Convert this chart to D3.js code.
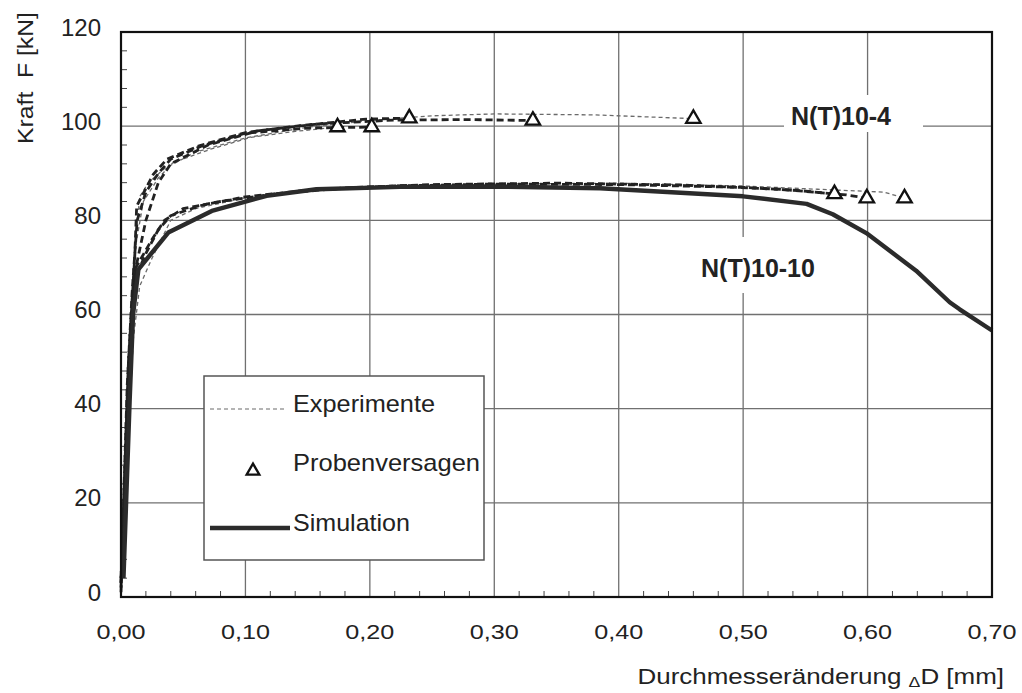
<!DOCTYPE html>
<html>
<head>
<meta charset="utf-8">
<title>Kraft-Durchmesseränderung</title>
<script src="https://d3js.org/d3.v7.min.js"></script>
<style>
  body { margin: 0; background: #fff; }
  svg { display: block; font-family: "Liberation Sans", Arial, sans-serif; }
</style>
</head>
<body>
<svg width="1022" height="693"></svg>
<script>
// ---- data ----
const xTicks = [0, 0.1, 0.2, 0.3, 0.4, 0.5, 0.6, 0.7];
const yTicks = [0, 20, 40, 60, 80, 100, 120];

const simulation = [[0.002,4],[0.007,42],[0.0097,60],[0.014,69.6],[0.038,77.4],[0.073,82.0],[0.117,85.2],
  [0.157,86.6],[0.224,87.1],[0.30,87.2],[0.385,86.8],[0.50,85.1],[0.551,83.5],[0.572,81.3],[0.599,77.3],
  [0.639,69.3],[0.666,62.6],[0.674,61.1],[0.70,56.6]];

// N(T)10-4
const expU1 = [[0,2],[0.004,40],[0.008,62],[0.012,75],[0.018,84],[0.03,89],[0.042,92.3],[0.072,95.1],[0.104,97.6],[0.14,98.9],[0.174,99.8]];
const expU2 = [[0,3],[0.005,45],[0.009,65],[0.013,80],[0.02,86],[0.03,90],[0.04,93],[0.065,95.8],[0.1,98.5],[0.15,99.6],[0.2015,99.8]];
const expU3 = [[0,4],[0.006,50],[0.011,72],[0.0126,83],[0.026,89.8],[0.037,93],[0.0635,95.9],[0.101,98.7],[0.144,100.1],[0.197,101.5],[0.2317,101.7]];
const expU4 = [[0,3],[0.007,50],[0.012,70],[0.02,80],[0.03,88],[0.04,92],[0.07,96],[0.11,99],[0.16,100.5],[0.22,101.3],[0.28,101.4],[0.331,101.2]];
const expU5 = [[0,2],[0.005,40],[0.01,70],[0.015,85],[0.022,88],[0.035,91],[0.06,94.5],[0.1,97.5],[0.15,99.8],[0.2,101.2],[0.25,102.2],[0.3,102.6],[0.38,102.4],[0.46,101.6]];
// N(T)10-10
const expL1 = [[0,1],[0.004,30],[0.008,55],[0.012,68],[0.02,73],[0.03,78],[0.04,81],[0.065,83.2],[0.1,85],[0.15,86.4],[0.22,87.3],[0.3,87.7],[0.4,87.6],[0.5,87],[0.546,86.3],[0.573,85.6]];
const expL2 = [[0,2],[0.005,35],[0.009,58],[0.012,70],[0.025,76],[0.035,80],[0.05,82.5],[0.08,84],[0.12,85.5],[0.18,86.9],[0.25,87.6],[0.35,87.9],[0.45,87.5],[0.53,86.6],[0.583,85.4],[0.599,84.7]];
const expL3 = [[0,1],[0.005,30],[0.01,55],[0.015,66],[0.025,72],[0.04,80],[0.06,82.5],[0.1,84.8],[0.15,86.2],[0.22,87.2],[0.3,87.7],[0.4,87.9],[0.5,87.3],[0.56,86.6],[0.613,86],[0.63,84.7]];

const failures = [[0.174,99.8],[0.2015,99.8],[0.2317,101.7],[0.331,101.2],[0.46,101.6],
  [0.5734,85.6],[0.5994,84.7],[0.6297,84.7]];

const thinExp = [expU1, expU5, expL3];
const thickExp = [expU2, expU3, expU4, expL1, expL2];

const legendText = ['Experimente', 'Probenversagen', 'Simulation'];

// ---- layout ----
const svg = d3.select('svg');
const pLeft = 121, pRight = 992, pTop = 32, pBottom = 597;

const x = d3.scaleLinear().domain([0, 0.7]).range([pLeft, pRight]);
const y = d3.scaleLinear().domain([0, 120]).range([pBottom, pTop]);

// grid
const grid = svg.append('g').attr('stroke', '#707070').attr('stroke-width', 1.3);
grid.selectAll('.gx').data(xTicks.slice(1, -1)).enter().append('line')
  .attr('x1', d => x(d)).attr('x2', d => x(d)).attr('y1', pTop).attr('y2', pBottom);
grid.selectAll('.gy').data(yTicks.slice(1, -1)).enter().append('line')
  .attr('x1', pLeft).attr('x2', pRight).attr('y1', d => y(d)).attr('y2', d => y(d));

// minor ticks pointing inward
const minorY = d3.range(0, 120, 4).filter(v => v % 20 !== 0);
svg.append('g').attr('stroke', '#444').attr('stroke-width', 1)
  .selectAll('line').data(minorY).enter().append('line')
  .attr('x1', pLeft).attr('x2', pLeft + 6).attr('y1', d => y(d)).attr('y2', d => y(d));
const minorX = d3.range(1, 35).filter(i => i % 5 !== 0).map(i => i * 0.02);
svg.append('g').attr('stroke', '#444').attr('stroke-width', 1)
  .selectAll('line').data(minorX).enter().append('line')
  .attr('x1', d => x(d)).attr('x2', d => x(d)).attr('y1', pBottom).attr('y2', pBottom - 6);

// white label patches cutting the grid
svg.append('rect').attr('x', 784).attr('y', 95).attr('width', 139).attr('height', 37).attr('fill', '#fff');
svg.append('rect').attr('x', 690).attr('y', 237).attr('width', 135).attr('height', 56).attr('fill', '#fff');

const line = d3.line().x(d => x(d[0])).y(d => y(d[1]));

// experiments
svg.append('g').selectAll('path').data(thinExp).enter().append('path')
  .attr('d', line).attr('fill', 'none').attr('stroke', '#6a6a6a')
  .attr('stroke-width', 1.3).attr('stroke-dasharray', '4,3');
svg.append('g').selectAll('path').data(thickExp).enter().append('path')
  .attr('d', line).attr('fill', 'none').attr('stroke', '#222')
  .attr('stroke-width', 2.8).attr('stroke-dasharray', '7,4');

// simulation
svg.append('path').datum(simulation).attr('d', line)
  .attr('fill', 'none').attr('stroke', '#2b2b2b').attr('stroke-width', 4.4)
  .attr('stroke-linejoin', 'round');

// failure triangles
const tri = d3.symbol().type(d3.symbolTriangle).size(90);
svg.append('g').selectAll('path').data(failures).enter().append('path')
  .attr('d', tri).attr('transform', d => `translate(${x(d[0])},${y(d[1])})`)
  .attr('fill', '#fff').attr('stroke', '#111').attr('stroke-width', 2.3);

// frame
svg.append('rect').attr('x', pLeft).attr('y', pTop).attr('width', pRight - pLeft).attr('height', pBottom - pTop)
  .attr('fill', 'none').attr('stroke', '#111').attr('stroke-width', 2.2);

// tick labels
svg.append('g').selectAll('text').data(yTicks).enter().append('text')
  .attr('x', 101).attr('y', d => y(d) + 3.5).attr('text-anchor', 'end')
  .attr('font-size', 24).attr('fill', '#222').text(d => d);
svg.append('g').selectAll('text').data(xTicks).enter().append('text')
  .attr('x', d => x(d)).attr('y', 639).attr('text-anchor', 'middle')
  .attr('font-size', 21).attr('textLength', 49).attr('lengthAdjust', 'spacingAndGlyphs')
  .attr('fill', '#222').text(d => d3.format('.2f')(d).replace('.', ','));

// axis titles
svg.append('text').attr('transform', 'translate(33,78) rotate(-90)').attr('text-anchor', 'middle')
  .attr('font-size', 22).attr('fill', '#222').attr('xml:space', 'preserve')
  .attr('textLength', 132).attr('lengthAdjust', 'spacingAndGlyphs').text('Kraft  F [kN]');
const xt = svg.append('g').attr('transform', 'translate(1004,684) scale(1.18,1)')
  .append('text').attr('text-anchor', 'end').attr('font-size', 22).attr('fill', '#222');
xt.append('tspan').text('Durchmesseränderung ');
xt.append('tspan').attr('font-size', 15).attr('dy', 3).text('Δ');
xt.append('tspan').attr('dy', -3).text('D [mm]');

// series labels
svg.append('text').attr('x', 791).attr('y', 125).attr('font-size', 25).attr('font-weight', 'bold')
  .attr('fill', '#222').text('N(T)10-4');
svg.append('text').attr('x', 701).attr('y', 277).attr('font-size', 25).attr('font-weight', 'bold')
  .attr('fill', '#222').text('N(T)10-10');

// legend
const lg = svg.append('g');
lg.append('rect').attr('x', 204).attr('y', 376).attr('width', 280).attr('height', 184)
  .attr('fill', '#fff').attr('stroke', '#555').attr('stroke-width', 1.5);
lg.append('line').attr('x1', 210).attr('x2', 287).attr('y1', 409).attr('y2', 409)
  .attr('stroke', '#6a6a6a').attr('stroke-width', 1.2).attr('stroke-dasharray', '4,3');
lg.append('path').attr('d', d3.symbol().type(d3.symbolTriangle).size(70))
  .attr('transform', 'translate(253,471)').attr('fill', '#fff').attr('stroke', '#111').attr('stroke-width', 2.3);
lg.append('line').attr('x1', 210).attr('x2', 290).attr('y1', 528).attr('y2', 528)
  .attr('stroke', '#2b2b2b').attr('stroke-width', 4.4);
const legendY = [412, 471, 531];
const legendW = [142, 187, 117];
lg.selectAll('text').data(legendText).enter().append('text')
  .attr('x', 293).attr('y', (d, i) => legendY[i]).attr('font-size', 24)
  .attr('textLength', (d, i) => legendW[i]).attr('lengthAdjust', 'spacingAndGlyphs')
  .attr('fill', '#222').text(d => d);
</script>
</body>
</html>
